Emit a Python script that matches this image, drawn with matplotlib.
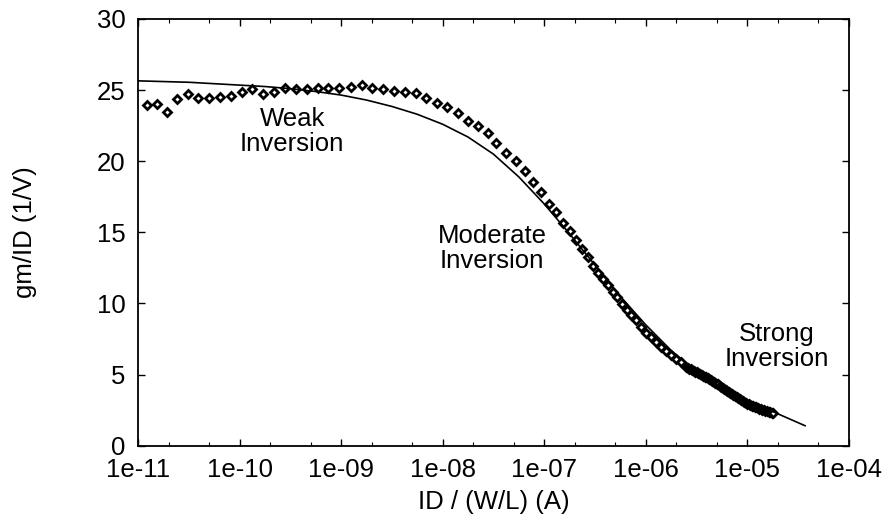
import numpy as np
import matplotlib
matplotlib.use("Agg")
import matplotlib.pyplot as plt
from matplotlib.ticker import LogLocator, FixedLocator, NullFormatter

plt.rcParams['font.family'] = ['Liberation Sans', 'DejaVu Sans']

# model curve: log10(ID/(W/L)) and gm/ID
model_logid = [-11.0, -10.75, -10.5, -10.25, -10.0, -9.75, -9.5, -9.25, -9.0,
               -8.75, -8.5, -8.25, -8.0, -7.75, -7.5, -7.25, -7.0, -6.75,
               -6.5, -6.25, -6.0, -5.75, -5.5, -5.25, -5.0, -4.75, -4.43]
model_gmid = [25.65, 25.6, 25.55, 25.45, 25.35, 25.25, 25.1, 24.9, 24.65,
              24.3, 23.85, 23.3, 22.6, 21.7, 20.5, 18.9, 17.0, 14.9,
              12.7, 10.5, 8.5, 6.7, 5.2, 4.0, 3.1, 2.4, 1.4]

# measured points
meas_logid = [-10.908, -10.816, -10.712, -10.613, -10.511, -10.406, -10.301,
              -10.193, -10.088, -9.979, -9.875, -9.767, -9.661, -9.552,
              -9.445, -9.338, -9.231, -9.125, -9.022, -8.904, -8.798,
              -8.694, -8.592, -8.480, -8.372, -8.264, -8.165, -8.060,
              -7.952, -7.853, -7.749, -7.651, -7.552, -7.470, -7.371,
              -7.280, -7.184, -7.109, -7.035, -6.952, -6.886, -6.814,
              -6.748, -6.682, -6.623, -6.568, -6.519, -6.469, -6.420,
              -6.371, -6.322, -6.279, -6.229, -6.184, -6.141, -6.092,
              -6.042, -5.993, -5.944, -5.895, -5.846, -5.797, -5.747,
              -5.698, -5.649, -5.600,
              -5.585, -5.570, -5.555, -5.540, -5.525, -5.510, -5.495, -5.480,
              -5.465, -5.450, -5.435, -5.420, -5.405, -5.390, -5.375, -5.360,
              -5.345, -5.330, -5.315, -5.300, -5.285, -5.270, -5.255, -5.240,
              -5.225, -5.210, -5.195, -5.180, -5.165, -5.150, -5.135, -5.120,
              -5.105, -5.090, -5.075, -5.060, -5.045, -5.030, -5.015, -5.000,
              -4.985, -4.970, -4.955, -4.940, -4.925, -4.910, -4.895, -4.880,
              -4.865, -4.850, -4.835, -4.820, -4.805, -4.790, -4.775, -4.760,
              -4.748]
meas_gmid = [23.96, 24.0, 23.45, 24.38, 24.71, 24.43, 24.43,
             24.5, 24.61, 24.85, 25.08, 24.73, 24.85, 25.18,
             25.08, 25.06, 25.18, 25.18, 25.18, 25.25, 25.37,
             25.13, 25.06, 24.97, 24.9, 24.82, 24.47, 24.12,
             23.84, 23.42, 22.86, 22.48, 21.97, 21.27, 20.6,
             20.04, 19.34, 18.57, 17.8, 17.0, 16.41, 15.68,
             15.12, 14.47, 13.81, 13.25, 12.64, 12.12, 11.7,
             11.3, 10.83, 10.44, 9.96, 9.54, 9.19, 8.84,
             8.37, 7.95, 7.63, 7.31, 6.96, 6.68, 6.38,
             6.08, 5.85, 5.55,
             5.47, 5.42, 5.36, 5.31, 5.25, 5.20, 5.15, 5.08,
             5.03, 4.96, 4.92, 4.85, 4.80, 4.73, 4.68, 4.62,
             4.56, 4.50, 4.43, 4.36, 4.30, 4.22, 4.15, 4.07,
             4.00, 3.92, 3.84, 3.76, 3.68, 3.61, 3.54, 3.47,
             3.41, 3.35, 3.28, 3.22, 3.15, 3.09, 3.02, 2.96,
             2.91, 2.86, 2.82, 2.77, 2.73, 2.69, 2.65, 2.61,
             2.57, 2.53, 2.50, 2.46, 2.43, 2.39, 2.36, 2.32,
             2.29]

xticks = [1e-11, 1e-10, 1e-9, 1e-8, 1e-7, 1e-6, 1e-5, 1e-4]
xticklabels = ['1e-11', '1e-10', '1e-09', '1e-08', '1e-07', '1e-06', '1e-05', '1e-04']
yticks = [0, 5, 10, 15, 20, 25, 30]

fig = plt.figure(figsize=(8.85, 5.2), dpi=100)
ax = fig.add_axes([0.156, 0.143, 0.803, 0.8205])

ax.plot(10.0 ** np.array(meas_logid), meas_gmid, linestyle='none', marker='D',
        markersize=4.2, markerfacecolor='white', markeredgecolor='black',
        markeredgewidth=2.0)
ax.plot(10.0 ** np.array(model_logid), model_gmid, color='black', linewidth=1.2)

ax.set_xscale('log')
ax.set_xlim(1e-11, 1e-4)
ax.set_ylim(0, 30)
ax.set_xticks(xticks)
ax.set_xticklabels(xticklabels)
ax.xaxis.set_minor_locator(LogLocator(base=10, subs=(2.0, 5.0)))
ax.xaxis.set_minor_formatter(NullFormatter())
ax.yaxis.set_major_locator(FixedLocator(yticks))

ax.tick_params(which='both', direction='in', top=True, right=True, labelsize=18.5, pad=9)
ax.tick_params(which='major', length=5, width=1.0)
ax.tick_params(which='minor', length=3, width=0.8)
for s in ax.spines.values():
    s.set_linewidth(1.3)

ax.set_xlabel('ID / (W/L) (A)', fontsize=18.5, labelpad=6)
ax.set_ylabel('gm/ID (1/V)', fontsize=18.5, labelpad=43)

txt = dict(fontsize=18.5, ha='center', va='center', linespacing=1.05, transform=ax.transAxes)
ax.text(0.217, 0.736, 'Weak\nInversion', **txt)
ax.text(0.498, 0.461, 'Moderate\nInversion', **txt)
ax.text(0.899, 0.2325, 'Strong\nInversion', **txt)

fig.savefig('out.png', dpi=100)
